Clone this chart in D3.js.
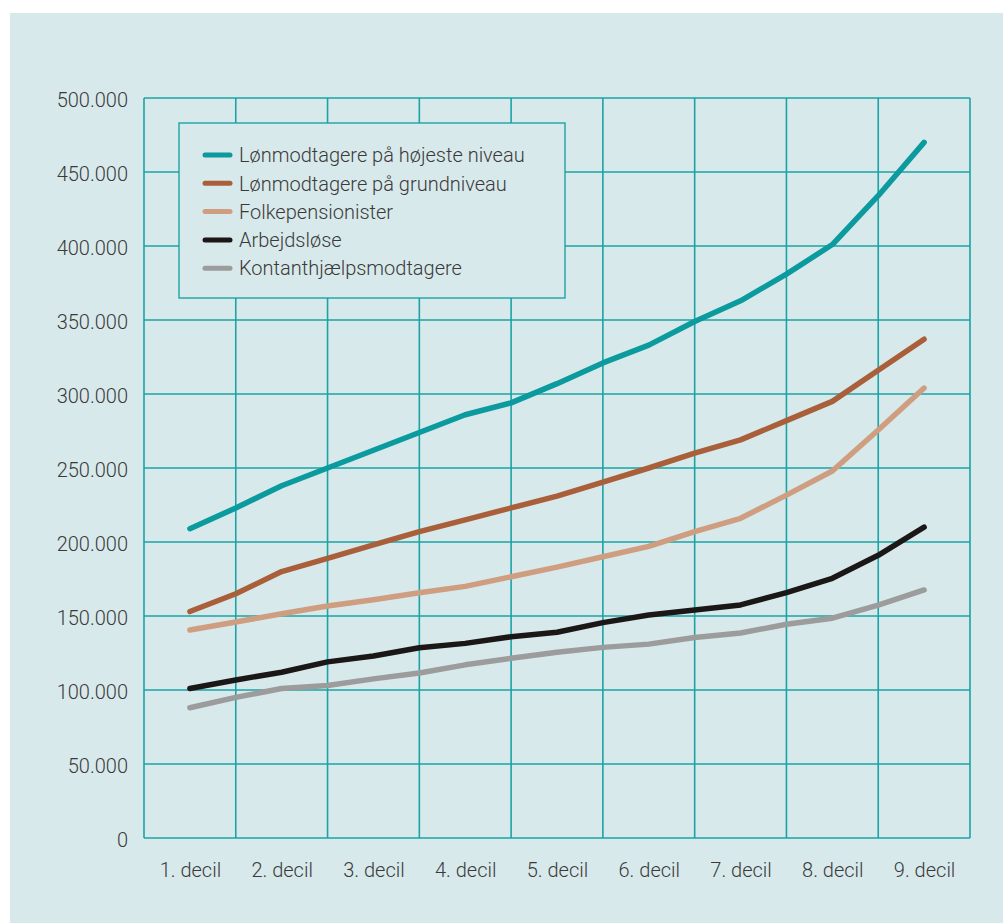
<!DOCTYPE html>
<html>
<head>
<meta charset="utf-8">
<script src="https://cdn.jsdelivr.net/npm/d3@7"></script>
<style>
  html, body { margin: 0; padding: 0; background: #ffffff; overflow: hidden; }
  svg { display: block; }
  svg text { font-family: Roboto, "Open Sans", sans-serif; font-weight: 300; fill: #3a3a3a; }
</style>
</head>
<body>
<div id="chart"></div>
<script>
// positions along the decile axis (half-decile steps)
const positions = [1, 1.5, 2, 2.5, 3, 3.5, 4, 4.5, 5, 5.5, 6, 6.5, 7, 7.5, 8, 8.5, 9];
const decileLabels = ["1. decil", "2. decil", "3. decil", "4. decil", "5. decil",
    "6. decil", "7. decil", "8. decil", "9. decil"];
const yTicks = [0, 50000, 100000, 150000, 200000, 250000, 300000, 350000, 400000, 450000, 500000];

const seriesNames = ["Lønmodtagere på højeste niveau", "Lønmodtagere på grundniveau",
    "Folkepensionister", "Arbejdsløse", "Kontanthjælpsmodtagere"];
const seriesColors = ["#0b9a9d", "#a9603a", "#cf9e80", "#1b1717", "#9c9c9c"];

const hoejeste = [209000, 223000, 238000, 250000, 262000, 274000, 286000, 294000, 307000,
    321000, 333000, 349000, 363000, 381000, 401000, 434000, 470000];
const grundniveau = [153000, 165000, 180000, 189000, 198000, 207000, 215000, 223000, 231000,
    240500, 250000, 260000, 269000, 282000, 295000, 316000, 337000];
const folkepension = [140500, 146000, 151500, 156800, 161000, 165700, 170000, 176500, 183000,
    190000, 197000, 207000, 216000, 231700, 248000, 275700, 304000];
const arbejdsloese = [101000, 106800, 112000, 119000, 123000, 128500, 131500, 136000, 139000,
    145500, 150700, 154000, 157500, 165800, 175500, 191000, 210000];
const kontanthjaelp = [88000, 95000, 101000, 103000, 107500, 111500, 117000, 121400, 125500,
    128800, 131000, 135500, 138500, 144400, 148500, 157400, 167600];

const seriesValues = [hoejeste, grundniveau, folkepension, arbejdsloese, kontanthjaelp];

const width = 1003, height = 923;
const margin = {top: 98, right: 33, bottom: 85, left: 144};
const innerWidth = width - margin.left - margin.right;
const innerHeight = height - margin.top - margin.bottom;
const gridColor = "#1ba3a6";

const svg = d3.select("#chart").append("svg")
    .attr("width", width)
    .attr("height", height);

svg.append("rect")
    .attr("x", 10).attr("y", 13)
    .attr("width", width - 10).attr("height", height - 13)
    .attr("fill", "#d8e9eb");

const g = svg.append("g")
    .attr("transform", "translate(" + margin.left + "," + margin.top + ")");

const x = d3.scaleLinear().domain([0.5, 9.5]).range([0, innerWidth]);
const y = d3.scaleLinear().domain([0, 500000]).range([innerHeight, 0]);

// horizontal grid
g.append("g")
    .selectAll("line")
    .data(yTicks)
    .enter()
    .append("line")
    .attr("x1", 0).attr("x2", innerWidth)
    .attr("y1", d => y(d)).attr("y2", d => y(d))
    .attr("stroke", gridColor)
    .attr("stroke-width", 1.6);

// vertical grid (band boundaries)
g.append("g")
    .selectAll("line")
    .data(d3.range(0.5, 10, 1))
    .enter()
    .append("line")
    .attr("x1", d => x(d)).attr("x2", d => x(d))
    .attr("y1", 0).attr("y2", innerHeight)
    .attr("stroke", gridColor)
    .attr("stroke-width", 1.6);

const fmt = d3.format(",");
const yAxis = d3.axisLeft(y)
    .tickValues(yTicks)
    .tickSize(0)
    .tickPadding(16)
    .tickFormat(d => fmt(d).replace(/,/g, "."));

g.append("g")
    .attr("class", "y axis")
    .call(yAxis)
    .attr("font-family", null)
    .attr("font-size", null)
    .call(a => a.select(".domain").remove())
    .selectAll("text")
    .attr("dy", "0.4em")
    .style("font-size", "20px");

const xAxis = d3.axisBottom(x)
    .tickValues(d3.range(1, 10))
    .tickSize(0)
    .tickPadding(25)
    .tickFormat(d => decileLabels[d - 1]);

g.append("g")
    .attr("class", "x axis")
    .attr("transform", "translate(0," + innerHeight + ")")
    .call(xAxis)
    .attr("font-family", null)
    .attr("font-size", null)
    .call(a => a.select(".domain").remove())
    .selectAll("text")
    .style("font-size", "20px");

const valueline = d3.line()
    .x((d, i) => x(positions[i]))
    .y(d => y(d));

g.selectAll(".series")
    .data(seriesValues)
    .enter()
    .append("path")
    .attr("class", "series")
    .attr("fill", "none")
    .attr("stroke", (d, i) => seriesColors[i])
    .attr("stroke-width", 5.5)
    .attr("stroke-linecap", "round")
    .attr("stroke-linejoin", "round")
    .attr("d", valueline);

// legend
const legend = svg.append("g").attr("transform", "translate(179,123)");
legend.append("rect")
    .attr("width", 386).attr("height", 175)
    .attr("fill", "#d8e9eb")
    .attr("stroke", gridColor)
    .attr("stroke-width", 1.4);

const item = legend.selectAll(".item")
    .data(seriesNames)
    .enter()
    .append("g")
    .attr("class", "item")
    .attr("transform", (d, i) => "translate(0," + (32 + i * 28.3) + ")");

item.append("line")
    .attr("x1", 26).attr("x2", 51)
    .attr("stroke", (d, i) => seriesColors[i])
    .attr("stroke-width", 5)
    .attr("stroke-linecap", "round");

item.append("text")
    .attr("x", 60)
    .attr("dy", "0.36em")
    .style("font-size", "20px")
    .text(d => d);
</script>
</body>
</html>
